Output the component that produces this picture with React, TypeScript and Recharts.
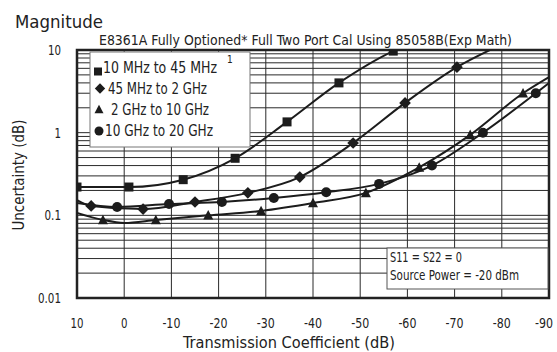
import React from "react";
import {
  LineChart,
  Line,
  XAxis,
  YAxis,
  CartesianGrid,
  ReferenceArea,
} from "recharts";

const FONT =
  "'Liberation Sans Narrow', 'DejaVu Sans Condensed', 'Roboto', sans-serif";
const INK = "#1c1c1c";

// axis ticks
const xTicks = [10, 0, -10, -20, -30, -40, -50, -60, -70, -80, -90];
const yTicks = [0.01, 0.1, 1, 10];
const yGrid = [
  0.01, 0.02, 0.03, 0.04, 0.05, 0.06, 0.07, 0.08, 0.09,
  0.1, 0.2, 0.3, 0.4, 0.5, 0.6, 0.7, 0.8, 0.9,
  1, 2, 3, 4, 5, 6, 7, 8, 9, 10,
];

// 10 MHz to 45 MHz (squares)
const sqX = [10, -1, -12.5, -23.5, -34.5, -45.5, -57, -59.5];
const sqY = [0.22, 0.22, 0.27, 0.49, 1.35, 4.0, 9.7, 11.2];
const sqM = [1, 1, 1, 1, 1, 1, 1, 0];

// 45 MHz to 2 GHz (diamonds)
const diX = [10, 7, -4, -15, -26.2, -37.2, -48.5, -59.5, -70.5, -79];
const diY = [0.153, 0.13, 0.119, 0.145, 0.187, 0.29, 0.75, 2.29, 6.2, 11];
const diM = [0, 1, 1, 1, 1, 1, 1, 1, 1, 0];

// 2 GHz to 10 GHz (triangles)
const trX = [10, 4.5, 0, -6.7, -17.8, -29, -40, -51.2, -62.5, -73.3, -84.5, -90];
const trY = [0.107, 0.088, 0.081, 0.088, 0.1, 0.113, 0.141, 0.187, 0.38, 0.94, 3.0, 4.7];
const trM = [0, 1, 0, 1, 1, 1, 1, 1, 1, 1, 1, 0];

// 10 GHz to 20 GHz (circles)
const ciX = [10, 1.5, -9.5, -20.7, -31.7, -42.8, -54, -65.2, -76, -87.2, -90];
const ciY = [0.141, 0.126, 0.137, 0.145, 0.162, 0.19, 0.24, 0.4, 1.0, 3.0, 4.0];
const ciM = [0, 1, 1, 1, 1, 1, 1, 1, 1, 1, 0];

const seriesNames = [
  "10 MHz to 45 MHz",
  "45 MHz to 2 GHz",
  "2 GHz to 10 GHz",
  "10 GHz to 20 GHz",
];

const toRows = (xs: number[], ys: number[], ms: number[]) =>
  xs.map((x, i) => ({ x, y: ys[i], m: ms[i] }));

type Shape = "square" | "diamond" | "triangle" | "circle";

function marker(shape: Shape, cx: number, cy: number, s: number, key?: any) {
  if (shape === "square")
    return <rect key={key} x={cx - s / 2} y={cy - s / 2} width={s} height={s} fill={INK} />;
  if (shape === "diamond") {
    const r = s * 0.65;
    return (
      <polygon
        key={key}
        points={`${cx},${cy - r} ${cx + r},${cy} ${cx},${cy + r} ${cx - r},${cy}`}
        fill={INK}
      />
    );
  }
  if (shape === "triangle") {
    const h = s * 0.95;
    return (
      <polygon
        key={key}
        points={`${cx},${cy - h / 2 - 1} ${cx + s / 2 + 0.5},${cy + h / 2} ${cx - s / 2 - 0.5},${cy + h / 2}`}
        fill={INK}
      />
    );
  }
  return <circle key={key} cx={cx} cy={cy} r={s / 2 + 0.5} fill={INK} />;
}

const dotFor = (shape: Shape) => (props: any) => {
  const { cx, cy, payload, index } = props;
  if (!payload || !payload.m || cx == null || cy == null) return <g key={`e${index}`} />;
  return marker(shape, cx, cy, 9, `d${index}`);
};

// the original uses a condensed face; squeeze the fallback to a similar width
const narrowWidth = (s: string) =>
  [...s].reduce((w, c) => w + (c === "-" ? 5 : c === "." ? 3.5 : 6.5), 0);

const XTick = (p: any) => {
  const label = String(p.payload.value);
  const w = narrowWidth(label);
  // keep the last label inside the page
  const x = Math.min(p.x, 553 - w / 2);
  return (
    <text
      x={x}
      y={p.y + 10}
      textAnchor="middle"
      fontSize={14}
      fill="#222"
      fontFamily={FONT}
      textLength={w}
      lengthAdjust="spacingAndGlyphs"
    >
      {label}
    </text>
  );
};

const YTick = (p: any) => {
  const label = String(p.payload.value);
  return (
    <text
      x={p.x}
      y={p.y + 5}
      textAnchor="end"
      fontSize={14}
      fill="#222"
      fontFamily={FONT}
      textLength={narrowWidth(label)}
      lengthAdjust="spacingAndGlyphs"
    >
      {label}
    </text>
  );
};

const series: { shape: Shape; data: any[] }[] = [
  { shape: "square", data: toRows(sqX, sqY, sqM) },
  { shape: "diamond", data: toRows(diX, diY, diM) },
  { shape: "triangle", data: toRows(trX, trY, trM) },
  { shape: "circle", data: toRows(ciX, ciY, ciM) },
];

const legendText = [
  { x: 103, y: 72.5, w: 114 },
  { x: 108, y: 93.5, w: 99 },
  { x: 111, y: 114.5, w: 98 },
  { x: 105, y: 135.5, w: 108 },
];
const legendMark = [
  { x: 98, y: 71.5, s: 8 },
  { x: 100, y: 88.5, s: 8 },
  { x: 99, y: 109.5, s: 8 },
  { x: 99, y: 131, s: 8 },
];

export default function App() {
  return (
    <div
      style={{
        position: "absolute",
        left: 0,
        top: 0,
        width: 557,
        height: 352,
        background: "#fff",
        fontFamily: FONT,
      }}
    >
      <LineChart
        width={557}
        height={352}
        margin={{ top: 50, right: 8, left: 0, bottom: 0 }}
      >
        <CartesianGrid
          stroke="#2a2a2a"
          strokeWidth={1}
          horizontalValues={yGrid}
          verticalValues={xTicks}
        />
        <XAxis
          type="number"
          dataKey="x"
          domain={[-90, 10]}
          reversed
          allowDataOverflow
          ticks={xTicks}
          interval={0}
          height={54}
          tickLine={false}
          axisLine={false}
          tickMargin={14}
          tick={(p: any) => <XTick {...p} />}
        />
        <YAxis
          type="number"
          scale="log"
          domain={[0.01, 10]}
          allowDataOverflow
          ticks={yTicks}
          interval={0}
          width={77}
          tickLine={false}
          axisLine={false}
          tickMargin={10}
          tick={(p: any) => <YTick {...p} />}
        />
        <ReferenceArea
          x1={10}
          x2={-90}
          y1={0.01}
          y2={10}
          fill="none"
          stroke="#222"
          strokeWidth={2.5}
          ifOverflow="visible"
        />
        {series.map((s) => (
          <Line
            key={s.shape}
            data={s.data}
            dataKey="y"
            type="monotone"
            stroke={INK}
            strokeWidth={2}
            dot={dotFor(s.shape)}
            activeDot={false}
            isAnimationActive={false}
          />
        ))}
      </LineChart>

      <svg
        width={557}
        height={352}
        style={{ position: "absolute", left: 0, top: 0, pointerEvents: "none" }}
        fontFamily={FONT}
      >
        <text x={15} y={28} fontSize={17.5} fill="#222" textLength={88} lengthAdjust="spacingAndGlyphs">
          Magnitude
        </text>
        <text x={99} y={45} fontSize={14} fill="#222" textLength={413} lengthAdjust="spacingAndGlyphs">
          E8361A Fully Optioned* Full Two Port Cal Using 85058B(Exp Math)
        </text>

        <rect x={90} y={52} width={160} height={95} fill="#fff" stroke="#777" strokeWidth={1} />
        {seriesNames.map((name, i) => (
          <g key={name}>
            {marker(series[i].shape, legendMark[i].x, legendMark[i].y, legendMark[i].s)}
            <text
              x={legendText[i].x}
              y={legendText[i].y}
              fontSize={15}
              fill="#222"
              textLength={legendText[i].w}
              lengthAdjust="spacingAndGlyphs"
            >
              {name}
            </text>
          </g>
        ))}
        <text x={227} y={63} fontSize={10} fill="#222">
          1
        </text>

        <rect x={387} y={248} width={161} height={41} fill="#fff" stroke="#555" strokeWidth={1} />
        <text x={390} y={262} fontSize={13.5} fill="#222" textLength={72} lengthAdjust="spacingAndGlyphs">
          S11 = S22 = 0
        </text>
        <text x={390} y={280} fontSize={13.5} fill="#222" textLength={129} lengthAdjust="spacingAndGlyphs">
          Source Power = -20 dBm
        </text>

        <text
          x={0}
          y={0}
          fontSize={15}
          fill="#222"
          textAnchor="middle"
          textLength={111}
          lengthAdjust="spacingAndGlyphs"
          transform="translate(24 175) rotate(-90)"
        >
          Uncertainty (dB)
        </text>
        <text x={183} y={348} fontSize={15} fill="#222" textLength={212} lengthAdjust="spacingAndGlyphs">
          Transmission Coefficient (dB)
        </text>
      </svg>
    </div>
  );
}
